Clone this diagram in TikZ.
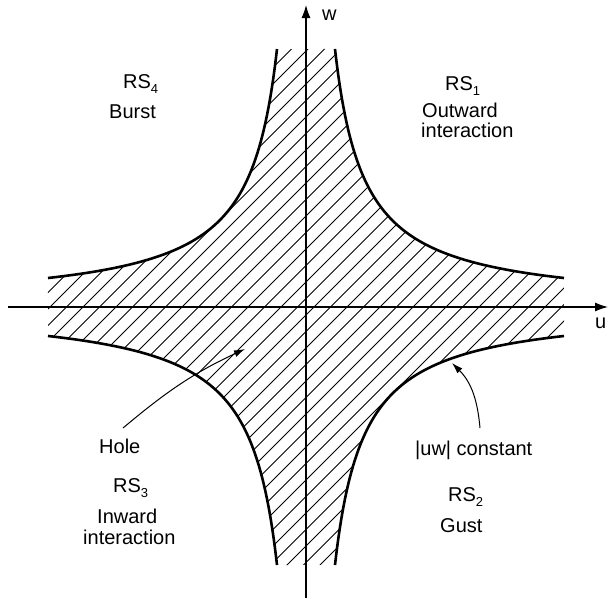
\documentclass[tikz,border=0pt]{standalone}
\usepackage{fontspec}
\setmainfont{Liberation Sans}
\usetikzlibrary{arrows.meta}
\newcommand\rsidx[1]{\raisebox{-5pt}{\fontsize{13}{13}\selectfont #1}}
\begin{document}
\begin{tikzpicture}[x=1pt,y=1pt,
  lbl/.style={anchor=base west, inner sep=0pt, font=\fontsize{20}{24}\selectfont},
  axisline/.style={line width=1.1pt, -{Latex[length=13pt,width=9pt]}},
  bound/.style={line width=2.6pt},
  hatch/.style={line width=0.8pt},
  leader/.style={line width=1pt, -{Latex[length=11pt,width=7pt]}}]
\useasboundingbox (-306,-291) rectangle (302,307);
\def\R{86.49}
\def\S{1.093}
% hatched region
\begin{scope}
  \clip plot[domain=-\S:\S, samples=60, variable=\s] ({\R*exp(\s)}, {\R*exp(-\s)})
    -- plot[domain=-\S:\S, samples=60, variable=\s] ({\R*exp(-\s)}, {-\R*exp(\s)})
    -- plot[domain=-\S:\S, samples=60, variable=\s] ({-\R*exp(\s)}, {-\R*exp(-\s)})
    -- plot[domain=-\S:\S, samples=60, variable=\s] ({-\R*exp(-\s)}, {\R*exp(\s)})
    -- cycle;
  \foreach \n in {-32,...,32}
    \draw[hatch] ({16.5*\n+8-300},-300) -- ++(600,600);
\end{scope}
% boundary curves |uw| = const
\draw[bound] plot[domain=-\S:\S, samples=60, variable=\s] ({\R*exp(\s)}, {\R*exp(-\s)});
\draw[bound] plot[domain=-\S:\S, samples=60, variable=\s] ({\R*exp(-\s)}, {-\R*exp(\s)});
\draw[bound] plot[domain=-\S:\S, samples=60, variable=\s] ({-\R*exp(\s)}, {-\R*exp(-\s)});
\draw[bound] plot[domain=-\S:\S, samples=60, variable=\s] ({-\R*exp(-\s)}, {\R*exp(\s)});
% axes
\coordinate (uL) at (-298,0);
\coordinate (uR) at (302,0);
\coordinate (wB) at (0,-291);
\coordinate (wT) at (0,302);
\draw[axisline] (uL) -- (uR);
\draw[axisline] (wB) -- (wT);
\node[lbl] (ulab) at (289,-21) {u};
\node[lbl] (wlab) at (16,287) {w};
% quadrant labels
\node[lbl] (rs4) at (-183,219) {RS\rsidx{4}};
\node[lbl] (burst) at (-197,189) {Burst};
\node[lbl] (rs1) at (139,217) {RS\rsidx{1}};
\node[lbl] (outw) at (116,190) {Outward};
\node[lbl] (inter1) at (115,170) {interaction};
\node[lbl] (hole) at (-207,-146) {Hole};
\node[lbl] (rs3) at (-193,-185) {RS\rsidx{3}};
\node[lbl] (inw) at (-209,-216) {Inward};
\node[lbl] (inter3) at (-223,-237) {interaction};
\node[lbl] (uwc) at (109,-148) {|uw| constant};
\node[lbl] (rs2) at (142,-194) {RS\rsidx{2}};
\node[lbl] (gust) at (134,-225) {Gust};
% leaders
\coordinate (holeS) at (-183,-121);
\coordinate (holeT) at (-61,-42);
\draw[leader] (holeS) to[out=40, in=205] (holeT);
\coordinate (uwS) at (174,-121);
\coordinate (uwT) at (146,-56);
\draw[leader] (uwS) to[out=95, in=-45] (uwT);
\end{tikzpicture}
\end{document}
